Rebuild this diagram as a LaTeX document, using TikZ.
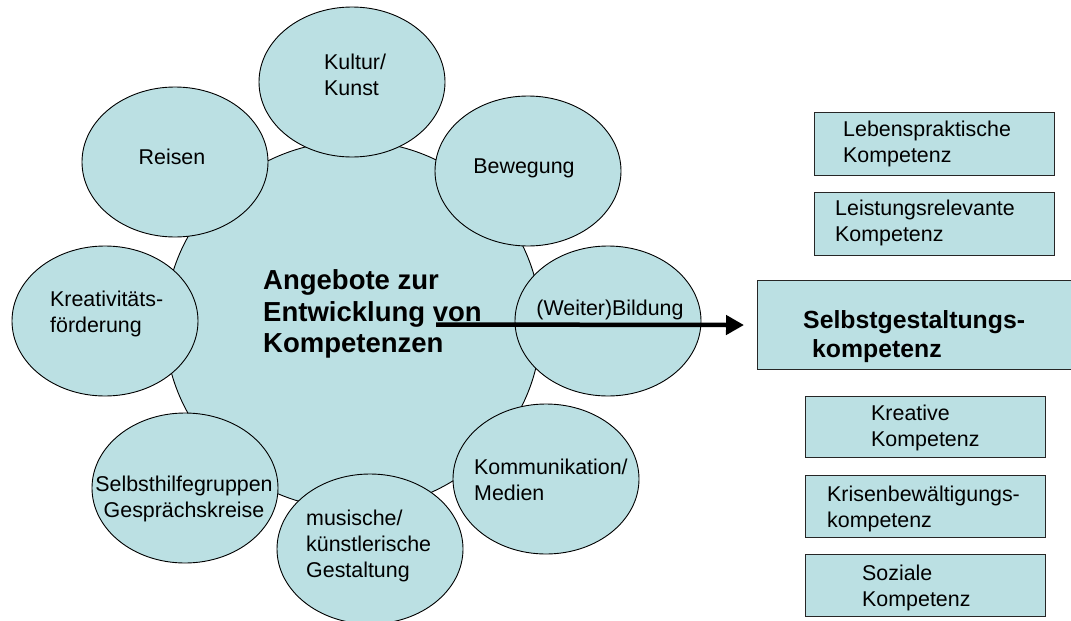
\documentclass[tikz,border=0pt]{standalone}
\usepackage{fontspec}
\setmainfont{Liberation Sans}
\usetikzlibrary{shapes.geometric,arrows.meta}
\definecolor{bub}{RGB}{187,224,227}
\begin{document}
\begin{tikzpicture}[x=1pt,y=-1pt,
  bubble/.style={ellipse, draw=black, line width=0.9pt, fill=bub, minimum width=186pt, minimum height=150pt, inner sep=0pt},
  lbl/.style={inner sep=0pt, font=\fontsize{21.4}{26}\selectfont, align=left},
  boldlbl/.style={inner sep=0pt, font=\fontsize{27.5}{31.5}\selectfont\bfseries, align=left},
  compbox/.style={draw=black!85, line width=1.1pt, fill=bub, anchor=north west, inner sep=0pt},
  arrowline/.style={line width=4.5pt, -{Triangle[length=18pt,width=19pt]}}
]
\useasboundingbox (0,0) rectangle (1071,621);

% central circle
\node[ellipse, draw=black, line width=0.9pt, fill=bub, minimum width=376pt, minimum height=368pt, inner sep=0pt] (core) at (353,325) {};

% satellites
\node[bubble] (kultur) at (352,82) {};
\node[bubble] (reisen) at (175,162) {};
\node[bubble] (bewegung) at (528,171) {};
\node[bubble] (bildung) at (608,321) {};
\node[bubble] (kreativ) at (105,321) {};
\node[bubble] (selbsthilfe) at (185,488) {};
\node[bubble] (musisch) at (370,549) {};
\node[bubble] (kommunikation) at (546,479) {};

% satellite texts
\node[lbl, anchor=west] (kulturT) at (324,75) {Kultur/\\Kunst};
\node[lbl] (reisenT) at (172,157) {Reisen};
\node[lbl] (bewegungT) at (524,168) {Bewegung};
\node[lbl] (bildungT) at (610,310) {(Weiter)Bildung};
\node[lbl, anchor=west] (kreativT) at (50,314) {Kreativitäts-\\förderung};
\node[lbl, align=center] (selbsthilfeT) at (184,499) {Selbsthilfegruppen\\Gesprächskreise};
\node[lbl, anchor=west] (musischT) at (306,546) {musische/\\künstlerische\\Gestaltung};
\node[lbl, anchor=west] (kommunikationT) at (474,480) {Kommunikation/\\Medien};

% central text
\node[boldlbl, anchor=west] (coreT) at (263,314) {Angebote zur\\Entwicklung von\\Kompetenzen};

% competence boxes
\node[compbox, minimum width=240pt, minimum height=63pt] (lebens) at (814,112) {};
\node[compbox, minimum width=240pt, minimum height=63pt] (leistung) at (814,192) {};
\node[compbox, minimum width=320pt, minimum height=89pt] (selbst) at (757,280) {};
\node[compbox, minimum width=240pt, minimum height=61pt] (kreative) at (805,396) {};
\node[compbox, minimum width=240pt, minimum height=62pt] (krisen) at (805,475) {};
\node[compbox, minimum width=240pt, minimum height=62pt] (sozial) at (805,554) {};

\node[lbl, anchor=west] (lebensT) at (843,143.5) {Lebenspraktische\\Kompetenz};
\node[lbl, anchor=west] (leistungT) at (835,222.5) {Leistungsrelevante\\Kompetenz};
\node[inner sep=0pt, font=\fontsize{24.8}{28.5}\selectfont\bfseries, align=left, anchor=west] (selbstT) at (803,336.5) {Selbstgestaltungs-\\\hspace*{9pt}kompetenz};
\node[lbl, anchor=west] (kreativeT) at (871,427.5) {Kreative\\Kompetenz};
\node[lbl, anchor=west] (krisenT) at (827,508.5) {Krisenbewältigungs-\\kompetenz};
\node[lbl, anchor=west] (sozialT) at (862,587.5) {Soziale\\Kompetenz};

% arrow
\coordinate (arrS) at (436,324.5);
\draw[arrowline, shorten >=13pt] (arrS) -- (selbst.west);
\end{tikzpicture}
\end{document}
